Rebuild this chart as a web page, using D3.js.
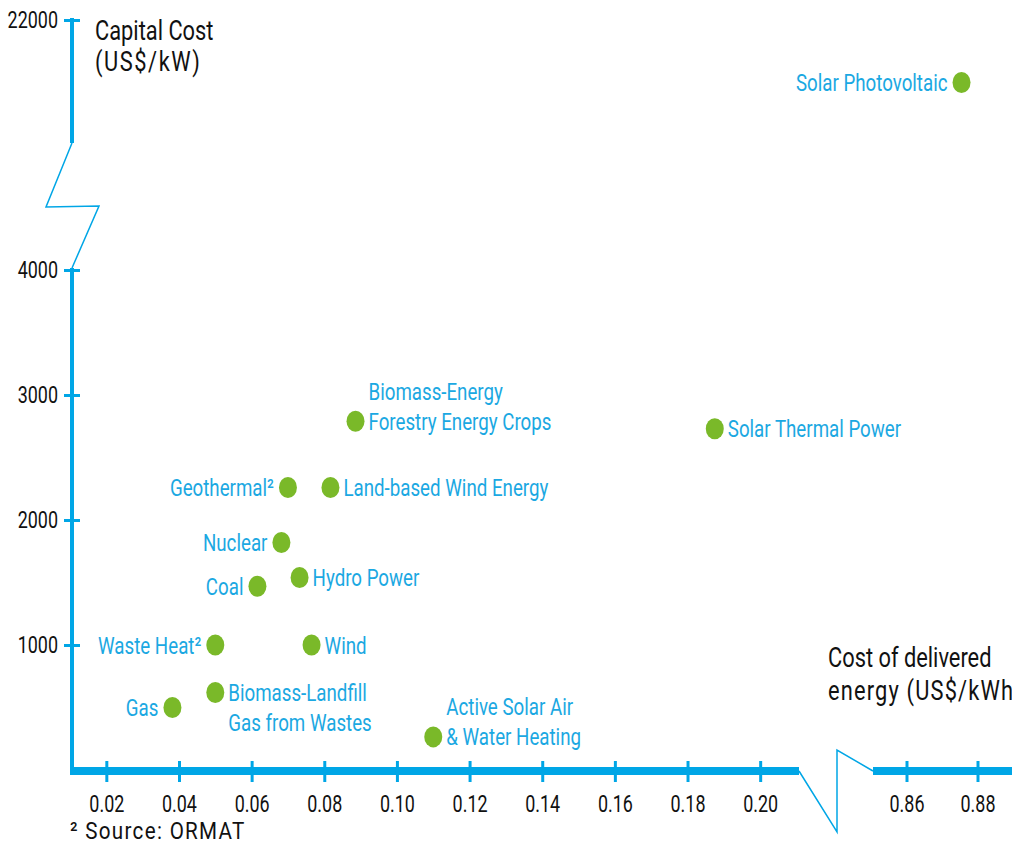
<!DOCTYPE html>
<html>
<head>
<meta charset="utf-8">
<script src="https://cdn.jsdelivr.net/npm/d3@7"></script>
<style>
  body { margin: 0; background: #fff; }
  text { font-family: Roboto, "Liberation Sans", sans-serif; }
</style>
</head>
<body>
<div id="chart"></div>
<script>
// data
var names = ["Solar Photovoltaic", "Solar Thermal Power", "Biomass-Energy|Forestry Energy Crops",
  "Geothermal\u00b2", "Land-based Wind Energy", "Nuclear", "Hydro Power", "Coal",
  "Waste Heat\u00b2", "Wind", "Biomass-Landfill|Gas from Wastes", "Gas",
  "Active Solar Air|& Water Heating"];
var costKWh = [0.8755, 0.1875, 0.0886, 0.070, 0.0817, 0.0682, 0.0732, 0.0616, 0.050, 0.0765, 0.050, 0.0382, 0.110];
var capital = [21500, 2730, 2790, 2260, 2260, 1820, 1540, 1470, 1000, 1000, 620, 500, 265];
var xTicksLow = [0.02, 0.04, 0.06, 0.08, 0.10, 0.12, 0.14, 0.16, 0.18, 0.20];
var xTicksHigh = [0.86, 0.88];
var yTicksLow = [1000, 2000, 3000, 4000];
var yTicksHigh = [22000];

// label placement (layout only): side and which line sits on the point
var labelSide = ["left", "right", "right", "left", "right", "left", "right", "left", "left", "right", "right", "left", "right"];
var labelLineOnPoint = [0, 0, 1, 0, 0, 0, 0, 0, 0, 0, 0, 0, 1];

var blue = "#00a6e6", textBlue = "#1ba8e2", green = "#7ab929", ink = "#111";
var SX = 0.78; // condensed look

var svg = d3.select("#chart").append("svg")
  .attr("width", 1012)
  .attr("height", 844);

var xLow = d3.scaleLinear().domain([0.01, 0.21]).range([70, 796.5]);
var xHigh = d3.scaleLinear().domain([0.85, 0.89]).range([871, 1013]);
var yLow = d3.scaleLinear().domain([0, 4000]).range([770, 270]);
var yHigh = d3.scaleLinear().domain([21000, 22000]).range([145, 20]);

function xPos(v) { return v > 0.5 ? xHigh(v) : xLow(v); }
function yPos(v) { return v > 5000 ? yHigh(v) : yLow(v); }

function txt(x, y, s, size, anchor, fill, sx) {
  return svg.append("text")
    .attr("transform", "translate(" + x + "," + y + ") scale(" + (sx || SX) + ",1)")
    .attr("text-anchor", anchor || "start")
    .attr("font-size", size)
    .attr("fill", fill || ink)
    .text(s);
}

// y axis line pieces
svg.append("line").attr("x1", 72).attr("x2", 72).attr("y1", 18).attr("y2", 143)
  .attr("stroke", blue).attr("stroke-width", 4);
svg.append("line").attr("x1", 72).attr("x2", 72).attr("y1", 268).attr("y2", 774)
  .attr("stroke", blue).attr("stroke-width", 4);
svg.append("path")
  .attr("d", "M72,143 L46,207 L99,206 L72,268")
  .attr("fill", "none").attr("stroke", blue).attr("stroke-width", 1.5);

// x axis line pieces
svg.append("line").attr("x1", 70).attr("x2", 799).attr("y1", 771).attr("y2", 771)
  .attr("stroke", blue).attr("stroke-width", 8);
svg.append("line").attr("x1", 873).attr("x2", 1012).attr("y1", 771).attr("y2", 771)
  .attr("stroke", blue).attr("stroke-width", 8);
svg.append("path")
  .attr("d", "M799,771 L837,832 L837,750 L873,771")
  .attr("fill", "none").attr("stroke", blue).attr("stroke-width", 1.5);

function styleAxis(g, horizontal, size, sx) {
  g.select(".domain").remove();
  g.selectAll(".tick line").attr("stroke", blue).attr("stroke-width", 3);
  if (horizontal) {
    g.selectAll(".tick line").attr("y1", -10).attr("y2", 11);
    g.selectAll(".tick text").attr("y", 25).attr("dy", "0.71em");
  } else {
    g.selectAll(".tick line").attr("x1", -8).attr("x2", 8);
    g.selectAll(".tick text").attr("x", -14 / sx);
  }
  g.selectAll(".tick text").attr("fill", ink).attr("font-size", size)
    .attr("font-family", "Roboto, 'Liberation Sans', sans-serif")
    .attr("transform", "scale(" + sx + ",1)");
}

svg.append("g").attr("transform", "translate(0,771)")
  .call(d3.axisBottom(xLow).tickValues(xTicksLow).tickFormat(d3.format(".2f")))
  .call(styleAxis, true, 23, SX);
svg.append("g").attr("transform", "translate(0,771)")
  .call(d3.axisBottom(xHigh).tickValues(xTicksHigh).tickFormat(d3.format(".2f")))
  .call(styleAxis, true, 23, SX);
svg.append("g").attr("transform", "translate(72,0)")
  .call(d3.axisLeft(yLow).tickValues(yTicksLow).tickFormat(d3.format("d")))
  .call(styleAxis, false, 23, SX);
svg.append("g").attr("transform", "translate(72,0)")
  .call(d3.axisLeft(yHigh).tickValues(yTicksHigh).tickFormat(d3.format("d")))
  .call(styleAxis, false, 23, SX);

// axis titles
txt(95, 40, "Capital Cost", 28);
txt(95, 71, "(US$/kW)", 28).attr("letter-spacing", 2);
txt(828, 667, "Cost of delivered", 28);
txt(828, 700, "energy (US$/kWh)", 28).attr("letter-spacing", 1.5);

// footnote
txt(70, 839, "\u00b2 Source: ORMAT", 24, "start", ink, 0.86).attr("letter-spacing", 1.5);

// points
var idx = d3.range(names.length);
svg.selectAll("ellipse.pt").data(idx).enter().append("ellipse")
  .attr("class", "pt")
  .attr("cx", function (i) { return xPos(costKWh[i]); })
  .attr("cy", function (i) { return yPos(capital[i]); })
  .attr("rx", 9).attr("ry", 10.5)
  .attr("fill", green);

// labels
idx.forEach(function (i) {
  var cx = xPos(costKWh[i]), cy = yPos(capital[i]);
  var left = labelSide[i] === "left";
  names[i].split("|").forEach(function (s, k) {
    txt(left ? cx - 14 : cx + 13, cy + 8.5 + (k - labelLineOnPoint[i]) * 30, s, 24,
      left ? "end" : "start", textBlue);
  });
});
</script>
</body>
</html>
